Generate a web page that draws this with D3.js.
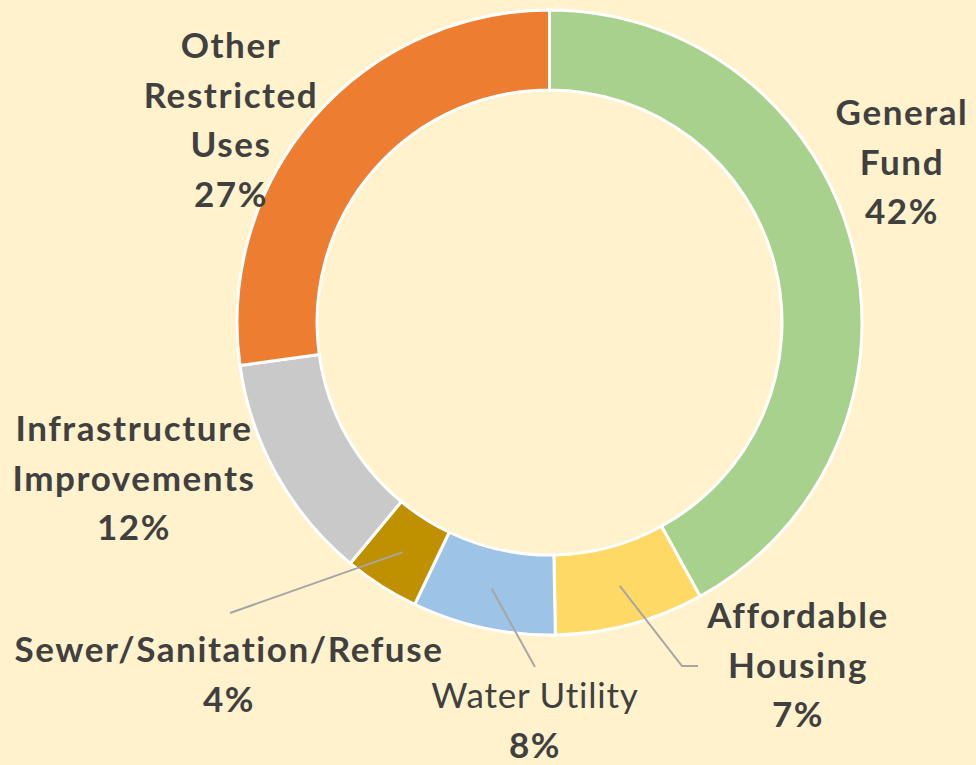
<!DOCTYPE html>
<html>
<head>
<meta charset="utf-8">
<script src="https://cdn.jsdelivr.net/npm/d3@7"></script>
<style>
  html, body { margin: 0; padding: 0; background: #FFF2CC; }
  svg { display: block; }
  text { font-family: Lato, "Open Sans", sans-serif; fill: #404040; }
</style>
</head>
<body>
<svg width="976" height="765"></svg>
<script>
// data, clockwise from 12 o'clock
var categories = ["General Fund", "Affordable Housing", "Water Utility",
    "Sewer/Sanitation/Refuse", "Infrastructure Improvements", "Other Restricted Uses"];
// slice sizes as drawn in the picture
var shares = [42.0, 7.7, 7.4, 3.9, 11.8, 27.2];
// percentages as printed on the labels
var pctLabels = ["42%", "7%", "8%", "4%", "12%", "27%"];
var labelLines = [["General", "Fund"], ["Affordable", "Housing"], ["Water Utility"],
    ["Sewer/Sanitation/Refuse"], ["Infrastructure", "Improvements"], ["Other", "Restricted", "Uses"]];
var colors = ["#A9D18E", "#FFD966", "#9DC3E6", "#BF9000", "#C9C9C9", "#ED7D31"];

// where each label sits (x centre, first baseline) and leader line bends
var labelPos = [
    {x: 902, y: 125},
    {x: 798, y: 628, leader: [[682, 666], [698, 666]]},
    {x: 535, y: 708, leader: [[535, 667]], light: true},
    {x: 229, y: 662, leader: [[230, 613]]},
    {x: 134, y: 441},
    {x: 231, y: 58}
];

var svg = d3.select("svg"),
    cx = 549.5, cy = 322.5,
    outerR = 312.5, innerR = 232.5,
    lineH = 49.5;

var data = categories.map(function (c, i) {
    return {name: c, value: shares[i], pct: pctLabels[i], lines: labelLines[i], color: colors[i], pos: labelPos[i]};
});

var pie = d3.pie().sort(null).value(function (d) { return d.value; });
var arc = d3.arc().innerRadius(innerR).outerRadius(outerR);

var g = svg.append("g").attr("transform", "translate(" + cx + "," + cy + ")");

var arcs = pie(data);

g.selectAll("path.slice")
    .data(arcs)
    .enter().append("path")
    .attr("class", "slice")
    .attr("d", arc)
    .attr("fill", function (d) { return d.data.color; })
    .attr("stroke", "#fff")
    .attr("stroke-width", 3)
    .attr("stroke-linejoin", "miter");

// leader lines from slice centroid
svg.append("g").selectAll("polyline")
    .data(arcs.filter(function (d) { return d.data.pos.leader; }))
    .enter().append("polyline")
    .attr("points", function (d) {
        var c = arc.centroid(d);
        var pts = [[c[0] + cx, c[1] + cy]].concat(d.data.pos.leader);
        return pts.map(function (p) { return p.join(","); }).join(" ");
    })
    .attr("fill", "none")
    .attr("stroke", "#A6A6A6")
    .attr("stroke-width", 2);

var label = svg.append("g").selectAll("text")
    .data(data)
    .enter().append("text")
    .attr("text-anchor", "middle")
    .attr("font-size", 35)
    .attr("font-weight", 700);

label.each(function (d) {
    var t = d3.select(this);
    var all = d.lines.concat([d.pct]);
    all.forEach(function (line, j) {
        var light = d.pos.light && j < all.length - 1;
        t.append("tspan")
            .attr("x", d.pos.x)
            .attr("y", d.pos.y + j * lineH)
            .attr("font-weight", light ? 400 : 700)
            .attr("letter-spacing", light ? 0.8 : 1.6)
            .text(line);
    });
});
</script>
</body>
</html>
